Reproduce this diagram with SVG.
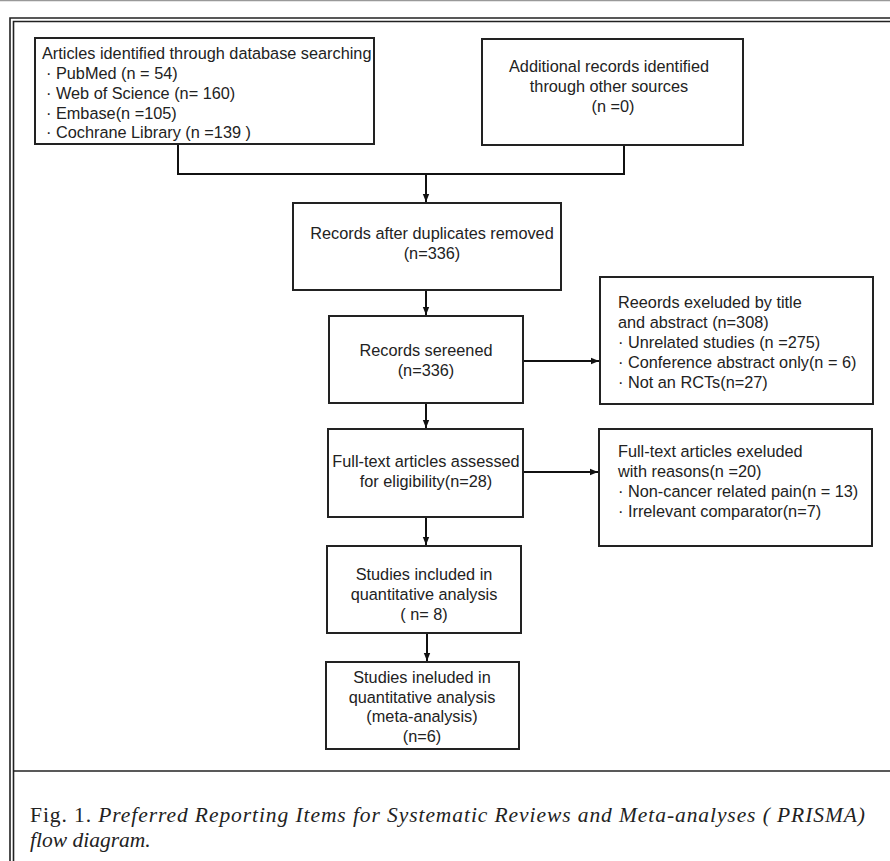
<svg xmlns="http://www.w3.org/2000/svg" width="890" height="861" viewBox="0 0 890 861">
<defs>
<style>
.box{fill:#fff;stroke:#222;stroke-width:2}
.t{font-family:"Liberation Sans",Arial,sans-serif;font-size:16.3px;fill:#222}
.c{text-anchor:middle}
.ln{fill:none;stroke:#111;stroke-width:2}
.frame{fill:none;stroke:#222;stroke-width:1.6}
.cap{font-family:"Liberation Serif","Times New Roman",serif;font-size:21.5px;fill:#222}
</style>
<marker id="ah" viewBox="0 0 10 10" refX="10" refY="5" markerWidth="8" markerHeight="8" markerUnits="userSpaceOnUse" orient="auto">
<path d="M0,1 L10,5 L0,9 Z" fill="#111"/>
</marker>
</defs>
<rect width="890" height="861" fill="#fff"/>
<line x1="0" y1="0.5" x2="890" y2="0.5" stroke="#999" stroke-width="1.5"/>
<g id="frame">
<path class="frame" d="M10,861 V18 H890"/>
<path class="frame" d="M13.5,861 V21.5 H890"/>
<line x1="13.5" y1="771" x2="890" y2="771" stroke="#222" stroke-width="1.5"/>
</g>
<g id="connectors">
<path class="ln" d="M178,144 V174 H624 V145"/>
<path class="ln" d="M426,174 V202" marker-end="url(#ah)"/>
<path class="ln" d="M426,290 V315" marker-end="url(#ah)"/>
<path class="ln" d="M426,403 V428" marker-end="url(#ah)"/>
<path class="ln" d="M523,361 H599" marker-end="url(#ah)"/>
<path class="ln" d="M426,517 V545" marker-end="url(#ah)"/>
<path class="ln" d="M523,472 H598" marker-end="url(#ah)"/>
<path class="ln" d="M427,633 V661" marker-end="url(#ah)"/>
</g>
<g id="n1">
<rect class="box" x="35" y="38" width="339" height="106"/>
<text class="t" x="42" y="59">Articles identified through database searching</text>
<text class="t" x="46" y="79">· PubMed (n = 54)</text>
<text class="t" x="46" y="99">· Web of Science (n= 160)</text>
<text class="t" x="46" y="119">· Embase(n =105)</text>
<text class="t" x="46" y="138">· Cochrane Library (n =139 )</text>
</g>
<g id="n2">
<rect class="box" x="482" y="39" width="261" height="106"/>
<text class="t c" x="609" y="72">Additional records identified</text>
<text class="t c" x="609" y="92">through other sources</text>
<text class="t c" x="613" y="112">(n =0)</text>
</g>
<g id="n3">
<rect class="box" x="293" y="203" width="268" height="87"/>
<text class="t c" x="432" y="239">Records after duplicates removed</text>
<text class="t c" x="432" y="259">(n=336)</text>
</g>
<g id="n4">
<rect class="box" x="329" y="316" width="194" height="87"/>
<text class="t c" x="426" y="356">Records sereened</text>
<text class="t c" x="426" y="376">(n=336)</text>
</g>
<g id="n5">
<rect class="box" x="600" y="277" width="273" height="127"/>
<text class="t" x="618" y="308">Reeords exeluded by title</text>
<text class="t" x="618" y="328">and abstract (n=308)</text>
<text class="t" x="618" y="348">· Unrelated studies (n =275)</text>
<text class="t" x="618" y="368">· Conference abstract only(n = 6)</text>
<text class="t" x="618" y="388">· Not an RCTs(n=27)</text>
</g>
<g id="n6">
<rect class="box" x="328" y="429" width="195" height="88"/>
<text class="t c" x="426" y="467">Full-text articles assessed</text>
<text class="t c" x="426" y="487">for eligibility(n=28)</text>
</g>
<g id="n7">
<rect class="box" x="599" y="429" width="273" height="117"/>
<text class="t" x="618" y="457">Full-text articles exeluded</text>
<text class="t" x="618" y="477">with reasons(n =20)</text>
<text class="t" x="618" y="497">· Non-cancer related pain(n = 13)</text>
<text class="t" x="618" y="517">· Irrelevant comparator(n=7)</text>
</g>
<g id="n8">
<rect class="box" x="327" y="546" width="194" height="87"/>
<text class="t c" x="424" y="580">Studies included in</text>
<text class="t c" x="424" y="600">quantitative analysis</text>
<text class="t c" x="424" y="620">( n= 8)</text>
</g>
<g id="n9">
<rect class="box" x="326" y="662" width="193" height="87"/>
<text class="t c" x="422" y="683">Studies ineluded in</text>
<text class="t c" x="422" y="703">quantitative analysis</text>
<text class="t c" x="422" y="722">(meta-analysis)</text>
<text class="t c" x="422" y="742">(n=6)</text>
</g>
<g id="caption">
<text class="cap" x="30" y="822" textLength="835" lengthAdjust="spacing">Fig. 1. <tspan font-style="italic">Preferred Reporting Items for Systematic Reviews and Meta-analyses ( PRISMA)</tspan></text>
<text class="cap" x="30" y="847" font-style="italic">flow diagram.</text>
</g>
</svg>
